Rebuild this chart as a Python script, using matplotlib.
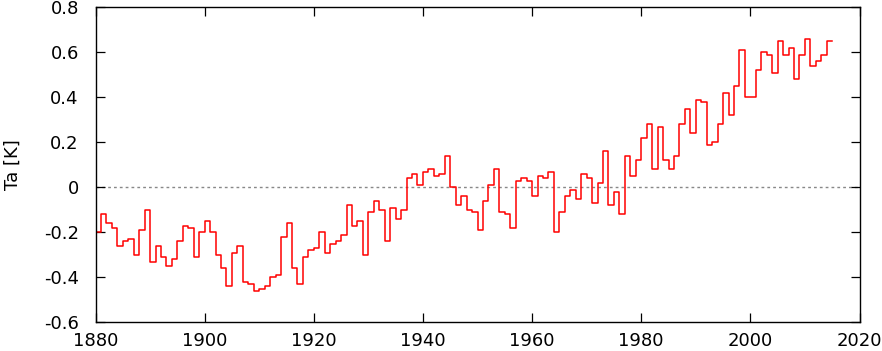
import numpy as np
import matplotlib
matplotlib.use('Agg')
import matplotlib.pyplot as plt

# annual temperature anomaly, one value per year from 1880
start_year = 1880
ta = [
    -0.20, -0.12, -0.16, -0.18, -0.26, -0.24, -0.23, -0.30, -0.19, -0.10,  # 1880s
    -0.33, -0.26, -0.31, -0.35, -0.32, -0.24, -0.17, -0.18, -0.31, -0.20,  # 1890s
    -0.15, -0.20, -0.30, -0.36, -0.44, -0.29, -0.26, -0.42, -0.43, -0.46,  # 1900s
    -0.45, -0.44, -0.40, -0.39, -0.22, -0.16, -0.36, -0.43, -0.31, -0.28,  # 1910s
    -0.27, -0.20, -0.29, -0.25, -0.24, -0.21, -0.08, -0.17, -0.15, -0.30,  # 1920s
    -0.11, -0.06, -0.10, -0.24, -0.09, -0.14, -0.10, 0.04, 0.06, 0.01,    # 1930s
    0.07, 0.08, 0.05, 0.06, 0.14, 0.00, -0.08, -0.04, -0.10, -0.11,       # 1940s
    -0.19, -0.06, 0.01, 0.08, -0.11, -0.12, -0.18, 0.03, 0.04, 0.03,      # 1950s
    -0.04, 0.05, 0.04, 0.07, -0.20, -0.11, -0.04, -0.01, -0.05, 0.06,     # 1960s
    0.04, -0.07, 0.02, 0.16, -0.08, -0.02, -0.12, 0.14, 0.05, 0.12,       # 1970s
    0.22, 0.28, 0.08, 0.27, 0.12, 0.08, 0.14, 0.28, 0.35, 0.24,           # 1980s
    0.39, 0.38, 0.19, 0.20, 0.28, 0.42, 0.32, 0.45, 0.61, 0.40,           # 1990s
    0.40, 0.52, 0.60, 0.59, 0.51, 0.65, 0.59, 0.62, 0.48, 0.59,           # 2000s
    0.66, 0.54, 0.56, 0.59, 0.65,                                         # 2010s
]

years = np.arange(start_year, start_year + len(ta) + 1)
vals = np.append(ta, ta[-1])  # close the last step

fig = plt.figure(figsize=(8.82, 3.51), dpi=100)
ax = fig.add_axes([95.5 / 882, 28.7 / 351, 764 / 882, 315 / 351])

ax.axhline(0, color='#888888', lw=1.0, dashes=(2, 2.2), zorder=1)
ax.plot(years, vals, drawstyle='steps-post', color='#ff0000', lw=1.1, zorder=2)

ax.set_xlim(1880, 2020)
ax.set_ylim(-0.6, 0.8)
ax.set_xticks(np.arange(1880, 2021, 20))
ax.set_yticks(np.arange(-0.6, 0.81, 0.2))
ax.set_yticklabels(['-0.6', '-0.4', '-0.2', '0', '0.2', '0.4', '0.6', '0.8'])
ax.set_ylabel('Ta [K]', fontsize=13, labelpad=16)

ax.tick_params(direction='in', length=6.5, width=0.9, top=True, right=True,
               labelsize=13, colors='black')
ax.tick_params(axis='y', pad=12)
ax.tick_params(axis='x', pad=7)
for s in ax.spines.values():
    s.set_linewidth(1.0)

fig.savefig('out.png', dpi=100)
